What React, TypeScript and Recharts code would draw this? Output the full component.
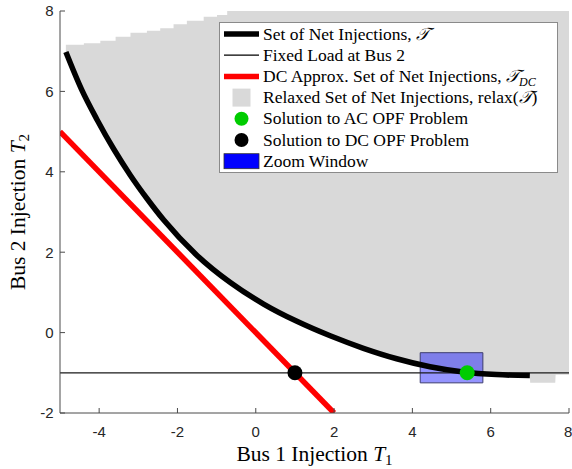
import React from "react";
import {
  ComposedChart,
  Line,
  Area,
  Scatter,
  XAxis,
  YAxis,
  ReferenceLine,
  ReferenceArea,
  Legend,
  Label,
} from "recharts";

// ---- data ----
const xTicks = [-4, -2, 0, 2, 4, 6, 8];
const yTicks = [-2, 0, 2, 4, 6, 8];

// Set of net injections (boundary curve)
const curveX = [-4.85, -4.45, -4.05, -3.625, -3.2, -2.775, -2.35, -1.5, -0.65, 0.2, 1.05, 1.9, 2.75, 3.6, 4.45, 5.3, 6.15, 7.0];
const curveY = [6.98, 6.05, 5.29, 4.56, 3.91, 3.33, 2.8, 1.92, 1.245, 0.71, 0.28, -0.08, -0.39, -0.65, -0.85, -0.98, -1.045, -1.07];

// Relaxed set: lower edge beyond the curve, and stepped upper edge
const relaxRightX = [7.01, 7.65, 7.66, 8.04];
const relaxRightY = [-1.25, -1.25, -1.05, -1.05];
const relaxTop = 8.07;
const stairX = [-4.9, -4.39, -3.97, -3.58, -3.2, -2.78, -2.44, -2.1, -1.76, -1.33, -0.99, -0.73];
const stairY = [7.16, 7.2, 7.26, 7.36, 7.46, 7.51, 7.57, 7.67, 7.76, 7.86, 7.9, 8.07];

// DC approximation line
const dcX = [-5, 2];
const dcY = [5, -2];

// Fixed load at bus 2
const fixedLoad = -1;

// Solutions
const acSolution = [{ x: 5.4, y: -1 }];
const dcSolution = [{ x: 1, y: -1 }];

// Zoom window
const zoomX = [4.2, 5.8];
const zoomY = [-1.25, -0.5];

const legendLabels = [
  "Set of Net Injections, ",
  "Fixed Load at Bus 2",
  "DC Approx. Set of Net Injections, ",
  "Relaxed Set of Net Injections, relax(",
  "Solution to AC OPF Problem",
  "Solution to DC OPF Problem",
  "Zoom Window",
];

// ---- derived tables ----
const curve = curveX.map((x, i) => ({ x, y: curveY[i] }));
const relaxLower = [...curve, ...relaxRightX.map((x, i) => ({ x, y: relaxRightY[i] }))];
const stairs = stairX.map((x, i) => ({ x, y: stairY[i] }));
const dcLine = dcX.map((x, i) => ({ x, y: dcY[i] }));

const SERIF = "'Liberation Serif', 'Times New Roman', serif";
const SANS = "'Liberation Sans', Arial, sans-serif";
const AXIS_COLOR = "#4a4a4a";
const GRAY = "#d9d9d9";

const ScriptT = () => (
  <tspan fontStyle="italic" fontFamily="'DejaVu Serif', serif">𝒯</tspan>
);

const renderLegend = () => {
  const W = 339;
  const H = 151;
  const rowY = (i: number) => 12 + i * 21.2;
  const iconX0 = 5;
  const iconX1 = 40;
  const iconCx = 22.5;
  const textX = 44;
  return (
    <svg width={W} height={H} style={{ display: "block" }}>
      <rect x={0.5} y={0.5} width={W - 1} height={H - 1} fill="#ffffff" stroke="#8a8a8a" strokeWidth={1} />
      <line x1={iconX0} x2={iconX1} y1={rowY(0)} y2={rowY(0)} stroke="#000" strokeWidth={5.5} />
      <line x1={iconX0} x2={iconX1} y1={rowY(1)} y2={rowY(1)} stroke="#000" strokeWidth={1.2} />
      <line x1={iconX0} x2={iconX1} y1={rowY(2)} y2={rowY(2)} stroke="#ff0000" strokeWidth={5.5} />
      <rect x={iconCx - 9} y={rowY(3) - 9} width={18} height={18} fill={GRAY} />
      <circle cx={iconCx} cy={rowY(4)} r={7} fill="#00cc00" />
      <circle cx={iconCx} cy={rowY(5)} r={7} fill="#000" />
      <rect x={iconX0} y={rowY(6) - 7.5} width={iconX1 - iconX0} height={15} fill="#0000ff" stroke="#333" strokeWidth={0.8} />
      <g fontFamily={SERIF} fontSize={17.5} fill="#000">
        <text x={textX} y={rowY(0) + 5.5}>
          {legendLabels[0]}
          <ScriptT />
        </text>
        <text x={textX} y={rowY(1) + 5.5}>{legendLabels[1]}</text>
        <text x={textX} y={rowY(2) + 5.5}>
          {legendLabels[2]}
          <ScriptT />
          <tspan fontSize={12} dy={4} fontStyle="italic">DC</tspan>
        </text>
        <text x={textX} y={rowY(3) + 5.5}>
          {legendLabels[3]}
          <ScriptT />
          {")"}
        </text>
        <text x={textX} y={rowY(4) + 5.5}>{legendLabels[4]}</text>
        <text x={textX} y={rowY(5) + 5.5}>{legendLabels[5]}</text>
        <text x={textX} y={rowY(6) + 5.5}>{legendLabels[6]}</text>
      </g>
    </svg>
  );
};

const XLabelContent = (props: any) => {
  const vb = props.viewBox || { x: 60, y: 413, width: 509, height: 56 };
  const cx = vb.x + vb.width / 2;
  return (
    <text x={cx} y={vb.y + 47.5} textAnchor="middle" fontFamily={SERIF} fontSize={21.5} fill="#000">
      Bus 1 Injection <tspan fontStyle="italic">T</tspan>
      <tspan fontSize={15} dy={4}>1</tspan>
    </text>
  );
};

const YLabelContent = (props: any) => {
  const vb = props.viewBox || { x: 0, y: 11, width: 60, height: 402 };
  const cy = vb.y + vb.height / 2;
  const bx = 25;
  return (
    <text
      x={bx}
      y={cy}
      transform={`rotate(-90, ${bx}, ${cy})`}
      textAnchor="middle"
      fontFamily={SERIF}
      fontSize={21.5}
      fill="#000"
    >
      Bus 2 Injection <tspan fontStyle="italic">T</tspan>
      <tspan fontSize={15} dy={4}>2</tspan>
    </text>
  );
};

const dot = (color: string, r: number) => (props: any) =>
  <circle cx={props.cx} cy={props.cy} r={r} fill={color} />;

const emptyTick = () => <g />;

export default function App() {
  return (
    <div style={{ position: "absolute", left: 0, top: 0 }}>
      <ComposedChart width={572} height={469} margin={{ top: 11, right: 3, bottom: 0, left: 0 }}>
        <XAxis
          dataKey="x"
          type="number"
          domain={[-5, 8]}
          ticks={xTicks}
          allowDataOverflow
          height={56}
          tickSize={-5}
          tickMargin={18}
          stroke={AXIS_COLOR}
          tick={{ fontFamily: SANS, fontSize: 15, fill: "#262626" }}
        >
          <Label content={<XLabelContent />} />
        </XAxis>
        <XAxis
          xAxisId="top"
          dataKey="x"
          orientation="top"
          type="number"
          domain={[-5, 8]}
          ticks={xTicks}
          allowDataOverflow
          height={0}
          tickSize={-5}
          stroke={AXIS_COLOR}
          tick={emptyTick}
        />
        <YAxis
          type="number"
          domain={[-2, 8]}
          ticks={yTicks}
          allowDataOverflow
          width={60}
          tickSize={-5}
          tickMargin={11.5}
          stroke={AXIS_COLOR}
          tick={{ fontFamily: SANS, fontSize: 15, fill: "#262626" }}
        >
          <Label content={<YLabelContent />} />
        </YAxis>
        <YAxis
          yAxisId="right"
          orientation="right"
          type="number"
          domain={[-2, 8]}
          ticks={yTicks}
          allowDataOverflow
          width={0}
          tickSize={-5}
          stroke={AXIS_COLOR}
          tick={emptyTick}
        />

        <Area
          data={relaxLower}
          dataKey="y"
          type="monotone"
          baseValue={relaxTop}
          fill={GRAY}
          fillOpacity={1}
          stroke="none"
          dot={false}
          activeDot={false}
          isAnimationActive={false}
        />
        <Area
          data={stairs}
          dataKey="y"
          type="stepAfter"
          baseValue={relaxTop}
          fill="#ffffff"
          fillOpacity={1}
          stroke="none"
          dot={false}
          activeDot={false}
          isAnimationActive={false}
        />
        <ReferenceLine y={fixedLoad} stroke="#1a1a1a" strokeWidth={1.2} />
        <Line
          data={dcLine}
          dataKey="y"
          type="linear"
          stroke="#ff0000"
          strokeWidth={5.5}
          dot={false}
          activeDot={false}
          isAnimationActive={false}
        />
        <Line
          data={curve}
          dataKey="y"
          type="monotone"
          stroke="#000000"
          strokeWidth={5.5}
          dot={false}
          activeDot={false}
          isAnimationActive={false}
        />
        <ReferenceArea
          x1={zoomX[0]}
          x2={zoomX[1]}
          y1={zoomY[0]}
          y2={zoomY[1]}
          fill="#0000ff"
          fillOpacity={0.42}
          stroke="#3c3c6e"
          strokeWidth={1}
        />
        <Scatter data={acSolution} dataKey="y" fill="#00cc00" shape={dot("#00cc00", 7.5)} isAnimationActive={false} />
        <Scatter data={dcSolution} dataKey="y" fill="#000000" shape={dot("#000000", 7.5)} isAnimationActive={false} />
        <Legend
          layout="vertical"
          align="center"
          verticalAlign="middle"
          content={renderLegend}
          wrapperStyle={{ position: "absolute", left: 219, top: 22, width: 339, height: 151 }}
        />
      </ComposedChart>
    </div>
  );
}
